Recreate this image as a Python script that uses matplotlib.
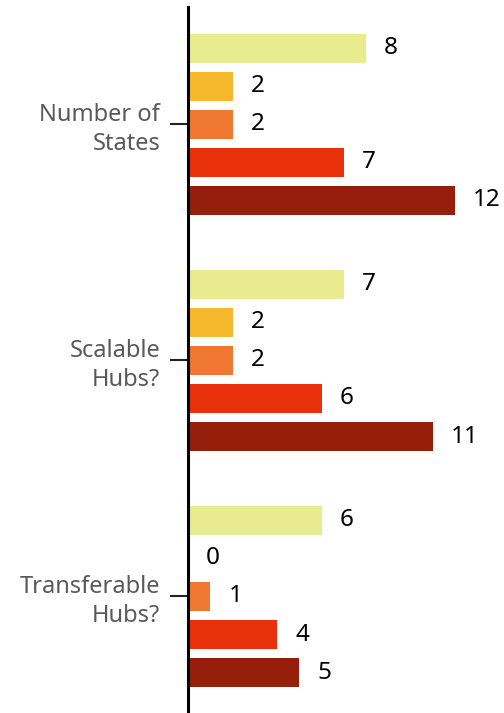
import matplotlib.pyplot as plt
import numpy as np

plt.rcParams['font.family'] = ['Noto Sans', 'DejaVu Sans']

# data
categories = ['Number of\nStates', 'Scalable\nHubs?', 'Transferable\nHubs?']
series_vals = [
    [8, 7, 6],
    [2, 2, 0],
    [2, 2, 1],
    [7, 6, 4],
    [12, 11, 5],
]
colors = ['#e8eb8e', '#f6b92e', '#f0772f', '#e8300a', '#951f0a']

group_gap = 6.2   # distance between group starts (in bar slots)
bar_h = 0.76

fig = plt.figure(figsize=(5.04, 7.13), dpi=100)
ax = fig.add_axes([188 / 504, 0, 1 - 188 / 504, 1 - 7 / 713])

group_pos = np.arange(len(categories)) * group_gap
for i, vals in enumerate(series_vals):
    y = group_pos + i
    bars = ax.barh(y, vals, height=bar_h, color=colors[i], zorder=2)
    ax.bar_label(bars, labels=[str(v) for v in vals], padding=13,
                 fontsize=17.5, color='black')

ax.set_xlim(0, 14.2)
ax.set_ylim(group_pos[-1] + 4 + 1.06, -1.08)
ax.set_yticks(group_pos + 2)
ax.set_yticklabels(categories, fontsize=17, color='#595959',
                   linespacing=1.25, ha='right')
ax.tick_params(axis='y', length=13, width=1.5, pad=7, color='#222222')
ax.set_xticks([])

for s in ['top', 'right', 'bottom']:
    ax.spines[s].set_visible(False)
ax.spines['left'].set_linewidth(2.2)
ax.spines['left'].set_color('black')

fig.savefig('out.png', dpi=100)
